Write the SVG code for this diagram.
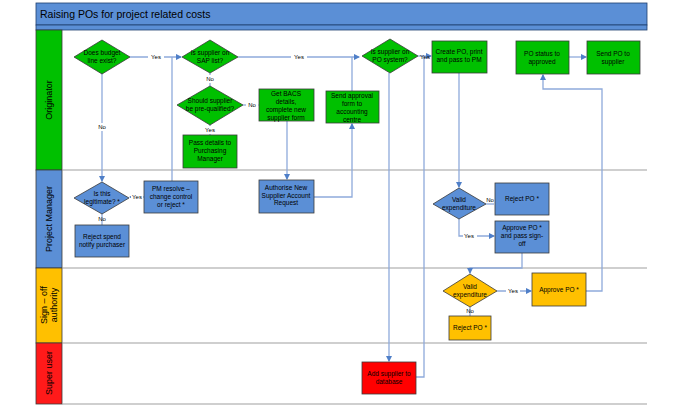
<svg xmlns="http://www.w3.org/2000/svg" width="680" height="408" viewBox="0 0 680 408">
<defs>
<style>
.t{font-family:"Liberation Sans",Arial,sans-serif;font-size:6.5px;fill:#000;text-anchor:middle}
.lab{font-family:"Liberation Sans",Arial,sans-serif;font-size:6px;fill:#000;text-anchor:middle}
.lane{font-family:"Liberation Sans",Arial,sans-serif;font-size:9px;fill:#000;text-anchor:middle}
.g{fill:#00c000;stroke:#3a3a3a;stroke-width:0.8}
.b{fill:#5b8fd6;stroke:#3a3a3a;stroke-width:0.8}
.y{fill:#ffc000;stroke:#3a3a3a;stroke-width:0.8}
.r{fill:#ff0000;stroke:#3a3a3a;stroke-width:0.8}
.c{fill:none;stroke:#8eaadb;stroke-width:1.3}
.sep{stroke:#a0a0a0;stroke-width:1.2}
</style>
<marker id="a" viewBox="0 0 6 6" refX="5" refY="3" markerWidth="5" markerHeight="5" orient="auto"><path d="M0,0 L6,3 L0,6z" fill="#4f7fc8"/></marker>
</defs>
<rect width="680" height="408" fill="#fff"/>
<g id="frame">
<rect x="36" y="3" width="611" height="22" fill="#5b8fd6" stroke="#1f3f6f" stroke-width="0.8"/>
<rect x="36" y="25" width="611" height="5" fill="#5b8fd6" stroke="#1f3f6f" stroke-width="0.8"/>
<text x="40" y="18" font-family="Liberation Sans,Arial,sans-serif" font-size="10.5" fill="#000">Raising POs for project related costs</text>
<rect x="36" y="30" width="26" height="140" fill="#00c000" stroke="#3a3a3a" stroke-width="0.8"/>
<rect x="36" y="170" width="26" height="98" fill="#5b8fd6" stroke="#3a3a3a" stroke-width="0.8"/>
<rect x="36" y="268" width="26" height="75" fill="#ffc000" stroke="#3a3a3a" stroke-width="0.8"/>
<rect x="36" y="343" width="26" height="61" fill="#ff1a1a" stroke="#3a3a3a" stroke-width="0.8"/>
<line class="sep" x1="62" y1="170" x2="647" y2="170"/>
<line class="sep" x1="62" y1="268" x2="647" y2="268"/>
<line class="sep" x1="62" y1="343" x2="647" y2="343"/>
<line class="sep" x1="62" y1="404" x2="647" y2="404"/>
<text class="lane" transform="translate(52,100) rotate(-90)">Originator</text>
<text class="lane" transform="translate(52,219) rotate(-90)">Project Manager</text>
<text class="lane" transform="translate(47,305) rotate(-90)">Sign – off</text>
<text class="lane" transform="translate(57,305) rotate(-90)">authority</text>
<text class="lane" transform="translate(52,373) rotate(-90)">Super user</text>
</g>
<g id="connectors">
<path class="c" d="M130,57 H181" marker-end="url(#a)"/>
<path class="c" d="M172,181 V57"/>
<path class="c" d="M238,57 H359" marker-end="url(#a)"/>
<path class="c" d="M210,73 V86"/>
<path class="c" d="M243,105 H258" marker-end="url(#a)"/>
<path class="c" d="M210,125 V135"/>
<path class="c" d="M102,73 V181" marker-end="url(#a)"/>
<path class="c" d="M144,197 H130" marker-end="url(#a)"/>
<path class="c" d="M102,213 V225"/>
<path class="c" d="M287,121 V179" marker-end="url(#a)"/>
<path class="c" d="M314,197 H352 V124" marker-end="url(#a)"/>
<path class="c" d="M352,91 V57"/>
<path class="c" d="M418,56 H431" marker-end="url(#a)"/>
<path class="c" d="M416,377 H424 V56"/>
<path class="c" d="M389,73 V361" marker-end="url(#a)"/>
<path class="c" d="M459,73 V187" marker-end="url(#a)"/>
<path class="c" d="M486,204 H494"/>
<path class="c" d="M459,219 V236 H494" marker-end="url(#a)"/>
<path class="c" d="M522,253 V268 H470 V273" marker-end="url(#a)"/>
<path class="c" d="M497,291 H531" marker-end="url(#a)"/>
<path class="c" d="M470,307 V316"/>
<path class="c" d="M586,291 H602 V89 H543 V75" marker-end="url(#a)"/>
<path class="c" d="M569,57 H586" marker-end="url(#a)"/>
<rect x="148" y="53" width="16" height="8" fill="#fff"/><text class="lab" x="156" y="59">Yes</text>
<rect x="291" y="53" width="16" height="8" fill="#fff"/><text class="lab" x="299" y="59">Yes</text>
<rect x="204" y="75" width="12" height="8" fill="#fff"/><text class="lab" x="210" y="81">No</text>
<rect x="246" y="101" width="12" height="8" fill="#fff"/><text class="lab" x="252" y="107">No</text>
<rect x="203" y="126" width="14" height="8" fill="#fff"/><text class="lab" x="210" y="132">Yes</text>
<rect x="96" y="123" width="12" height="8" fill="#fff"/><text class="lab" x="102" y="129">No</text>
<rect x="131" y="193" width="12" height="8" fill="#fff"/><text class="lab" x="137" y="199">Yes</text>
<text class="lab" x="102" y="221">No</text>
<text class="lab" x="425" y="59">Yes</text>
<text class="lab" x="490" y="202">No</text>
<rect x="463" y="232" width="14" height="8" fill="#fff"/><text class="lab" x="469" y="238">Yes</text>
<rect x="506" y="287" width="14" height="8" fill="#fff"/><text class="lab" x="513" y="293">Yes</text>
<text class="lab" x="470" y="313">No</text>
</g>
<g id="budget"><polygon class="g" points="102,40 130,57 102,74 74,57"/><text class="t" x="102" y="55">Does budget</text><text class="t" x="102" y="63">line exist?</text></g>
<g id="sap"><polygon class="g" points="210,40 238,57 210,73 182,57"/><text class="t" x="210" y="55">Is supplier on</text><text class="t" x="210" y="63">SAP list?</text></g>
<g id="prequal"><polygon class="g" points="210,86 243,105 210,125 177,105"/><text class="t" x="210" y="103">Should supplier</text><text class="t" x="210" y="111">be pre-qualified?</text></g>
<g id="pass"><rect class="g" x="183" y="135" width="54" height="33"/><text class="t" x="210" y="145">Pass details to</text><text class="t" x="210" y="153">Purchasing</text><text class="t" x="210" y="161">Manager</text></g>
<g id="bacs"><rect class="g" x="259" y="89" width="55" height="32"/><text class="t" x="286" y="96">Get BACS</text><text class="t" x="286" y="104">details,</text><text class="t" x="286" y="112">complete new</text><text class="t" x="286" y="120">supplier form</text></g>
<g id="approval"><rect class="g" x="326" y="91" width="53" height="32"/><text class="t" x="352" y="98">Send approval</text><text class="t" x="352" y="106">form to</text><text class="t" x="352" y="114">accounting</text><text class="t" x="352" y="122">centre</text></g>
<g id="posys"><polygon class="g" points="390,39 418,56 390,73 362,56"/><text class="t" x="390" y="54">Is supplier on</text><text class="t" x="390" y="62">PO system?</text></g>
<g id="create"><rect class="g" x="432" y="41" width="55" height="32"/><text class="t" x="459" y="54">Create PO, print</text><text class="t" x="459" y="62">and pass to PM</text></g>
<g id="status"><rect class="g" x="516" y="41" width="53" height="33"/><text class="t" x="542" y="56">PO status to</text><text class="t" x="542" y="64">approved</text></g>
<g id="send"><rect class="g" x="587" y="41" width="53" height="33"/><text class="t" x="613" y="56">Send PO to</text><text class="t" x="613" y="64">supplier</text></g>
<g id="legit"><polygon class="b" points="102,182 129,198 102,214 74,198"/><text class="t" x="102" y="196">Is this</text><text class="t" x="102" y="204">legitimate? *</text></g>
<g id="resolve"><rect class="b" x="144" y="181" width="54" height="32"/><text class="t" x="171" y="191">PM resolve –</text><text class="t" x="171" y="199">change control</text><text class="t" x="171" y="207">or reject *</text></g>
<g id="rejectspend"><rect class="b" x="75" y="225" width="54" height="32"/><text class="t" x="102" y="239">Reject spend</text><text class="t" x="102" y="247">notify purchaser</text></g>
<g id="authorise"><rect class="b" x="259" y="180" width="55" height="33"/><text class="t" x="286" y="190">Authorise New</text><text class="t" x="286" y="198">Supplier Account</text><text class="t" x="286" y="205">Request</text></g>
<g id="pmvalid"><polygon class="b" points="459,188 486,204 459,219 433,204"/><text class="t" x="459" y="202">Valid</text><text class="t" x="459" y="210">expenditure</text></g>
<g id="pmreject"><rect class="b" x="495" y="183" width="54" height="32"/><text class="t" x="522" y="201">Reject PO *</text></g>
<g id="pmapprove"><rect class="b" x="495" y="221" width="54" height="32"/><text class="t" x="522" y="230">Approve PO *</text><text class="t" x="522" y="238">and pass sign-</text><text class="t" x="522" y="246">off</text></g>
<g id="sovalid"><polygon class="y" points="470,274 497,291 470,307 443,291"/><text class="t" x="470" y="289">Valid</text><text class="t" x="470" y="297">expenditure</text></g>
<g id="soapprove"><rect class="y" x="532" y="273" width="54" height="33"/><text class="t" x="559" y="292">Approve PO *</text></g>
<g id="soreject"><rect class="y" x="449" y="316" width="42" height="24"/><text class="t" x="470" y="330">Reject PO *</text></g>
<g id="addsupplier"><rect class="r" x="362" y="362" width="54" height="32"/><text class="t" x="389" y="376">Add supplier to</text><text class="t" x="389" y="384">database</text></g>
</svg>
